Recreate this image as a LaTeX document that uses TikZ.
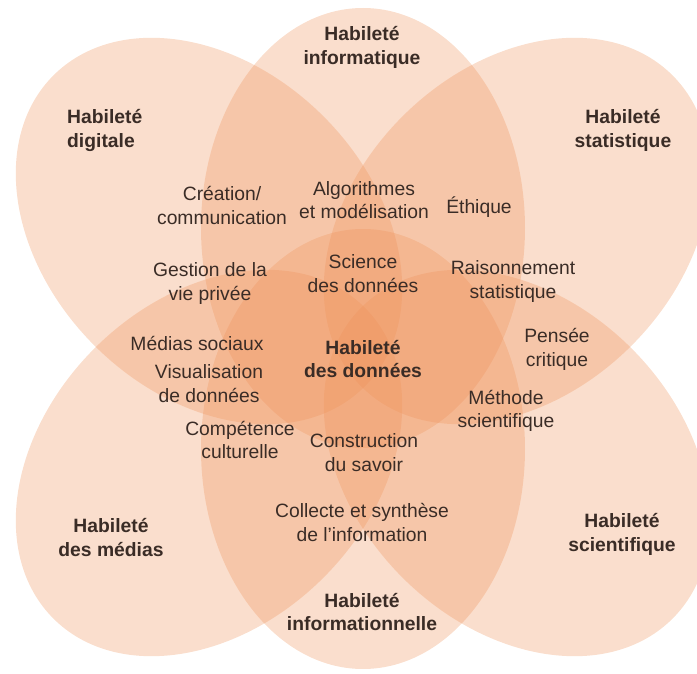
\documentclass[tikz,border=0pt]{standalone}
\usepackage{fontspec}
\setmainfont{Liberation Sans}
\definecolor{petal}{RGB}{238,145,88}
\definecolor{ink}{RGB}{58,44,38}
\begin{document}
\begin{tikzpicture}[x=1pt,y=1pt,
  petalfill/.style={fill=petal,fill opacity=0.3},
  big/.style={font=\bfseries\fontsize{19.3}{23.5}\selectfont,text=ink,align=center,inner sep=0pt},
  small/.style={font=\fontsize{19.3}{23.5}\selectfont,text=ink,align=center,inner sep=0pt}]
\useasboundingbox (0,0) rectangle (697,673);
% petals
\fill[petalfill] (363,445) ellipse [x radius=162pt, y radius=220pt];
\fill[petalfill] (363,224) ellipse [x radius=162pt, y radius=220pt];
\fill[petalfill, shift={(209,442)}, rotate=135] (0,0) ellipse [x radius=220pt, y radius=162pt];
\fill[petalfill, shift={(517,442)}, rotate=45] (0,0) ellipse [x radius=220pt, y radius=162pt];
\fill[petalfill, shift={(209,210)}, rotate=45] (0,0) ellipse [x radius=220pt, y radius=162pt];
\fill[petalfill, shift={(517,210)}, rotate=-45] (0,0) ellipse [x radius=220pt, y radius=162pt];
% main labels
\node[big] (hinfo) at (362,625.5) {Habileté\\informatique};
\node[big,align=left,anchor=west] (hdig) at (67,542.5) {Habileté\\digitale};
\node[big] (hstat) at (623,542.5) {Habileté\\statistique};
\node[big] (hmed) at (111,135.5) {Habileté\\des médias};
\node[big] (hsci) at (622,138.5) {Habileté\\scientifique};
\node[big] (hinfl) at (362,61) {Habileté\\informationnelle};
\node[big] (hdon) at (363,314) {Habileté\\des données};
% inner labels
\node[small] (crea) at (222,467.5) {Création/\\communication};
\node[small] (algo) at (364,473) {Algorithmes\\et modélisation};
\node[small] (eth) at (479,466) {Éthique};
\node[small] (gest) at (210,389.5) {Gestion de la\\vie privée};
\node[small] (sci) at (363,399.5) {Science\\des données};
\node[small] (rais) at (513,391.5) {Raisonnement\\statistique};
\node[small] (msoc) at (197,330) {Médias sociaux};
\node[small] (visu) at (209,289.5) {Visualisation\\de données};
\node[small] (pens) at (557,323.5) {Pensée\\critique};
\node[small] (meth) at (506,262) {Méthode\\scientifique};
\node[small] (comp) at (240,233) {Compétence\\culturelle};
\node[small] (cons) at (364,220.5) {Construction\\du savoir};
\node[small] (coll) at (362,150.5) {Collecte et synthèse\\de l'information};
\end{tikzpicture}
\end{document}
